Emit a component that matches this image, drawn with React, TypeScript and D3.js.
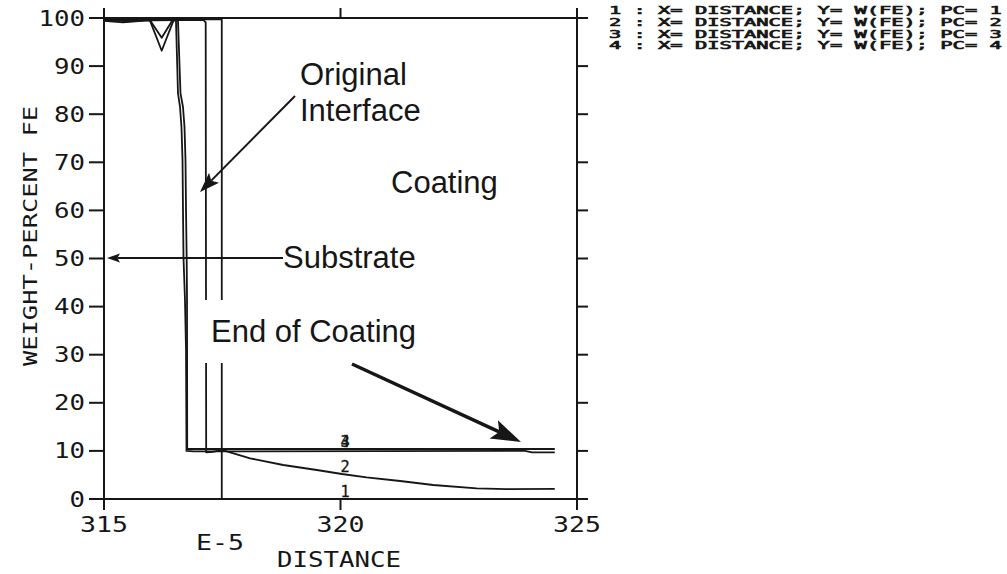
import React from "react";
import * as d3 from "d3";

// Axis ranges and ticks (distance in units of E-5)
const xDomain: [number, number] = [315, 325];
const yDomain: [number, number] = [0, 100];
const xTicks = [315, 320, 325];
const yTicks = [0, 10, 20, 30, 40, 50, 60, 70, 80, 90, 100];

// Fe weight-percent profiles, [distance, W(FE)], one per plot curve (PC)
const pc1: [number, number][] = [
  [315, 99.7], [317.49, 99.7], [317.49, 0], [324.53, 0],
];
const pc2: [number, number][] = [
  [315, 99.6], [316.0, 99.5], [317.1, 99.6], [317.15, 99.1], [317.16, 9.7],
  [317.3, 9.8], [317.49, 10.2], [318.09, 8.46], [318.79, 7.07], [319.5, 6.03],
  [320.03, 5.2], [320.55, 4.51], [321.26, 3.74], [321.96, 2.91], [322.88, 2.22],
  [323.51, 2.05], [324.53, 2.1],
];
const pc3: [number, number][] = [
  [315, 99.4], [315.4, 99.1], [315.8, 99.4], [315.97, 99.5], [316.22, 93.2],
  [316.47, 99.5], [316.522, 99.4], [316.564, 84.4], [316.607, 81.5],
  [316.638, 77.3], [316.66, 70.5], [316.67, 60.1], [316.681, 50.1],
  [316.712, 41.4], [316.734, 31.0], [316.744, 10.0], [316.9, 9.9],
  [323.9, 10.0], [324.05, 9.7], [324.53, 9.7],
];
const pc4: [number, number][] = [
  [315, 99.6], [315.5, 99.3], [315.97, 99.6], [316.22, 95.9], [316.45, 99.6],
  [316.564, 99.5], [316.617, 84.4], [316.67, 81.5], [316.702, 77.3],
  [316.723, 70.5], [316.734, 60.1], [316.748, 50.1], [316.755, 41.4],
  [316.759, 10.4], [324.53, 10.4],
];
const curves = [pc1, pc2, pc3, pc4];

// Curve number labels, placed on each curve at this distance
const curveLabelX = 320.1;
const curveLabels = [
  { text: "1", value: 0 },
  { text: "2", value: 5.15 },
  { text: "3", value: 10.4 },
  { text: "4", value: 10.4 },
];

const legendRows = [
  "1 :  X= DISTANCE; Y= W(FE); PC= 1",
  "2 :  X= DISTANCE; Y= W(FE); PC= 2",
  "3 :  X= DISTANCE; Y= W(FE); PC= 3",
  "4 :  X= DISTANCE; Y= W(FE); PC= 4",
];

const xTitle = "DISTANCE";
const xExponent = "E-5";
const yTitle = "WEIGHT-PERCENT FE";

const PLOT_FONT = "'DejaVu Sans Mono', monospace";
const NOTE_FONT = "'Liberation Sans', Arial, Helvetica, sans-serif";
const INK = "#161616";

function PlotText(props: {
  x: number; y: number; text: string; size: number; pitch: number;
  anchor?: "start" | "middle" | "end"; weight?: string; transform?: string;
  outline?: number;
}) {
  const { x, y, text, size, pitch, anchor = "start", weight = "normal", transform, outline } = props;
  return (
    <text
      x={x}
      y={y}
      fontFamily={PLOT_FONT}
      fontSize={size}
      fontWeight={weight}
      textAnchor={anchor}
      textLength={text.length * pitch}
      lengthAdjust="spacingAndGlyphs"
      transform={transform}
      fill={INK}
      stroke={outline ? INK : undefined}
      strokeWidth={outline}
    >
      {text}
    </text>
  );
}

function Arrow(props: {
  x1: number; y1: number; x2: number; y2: number;
  width: number; headLen: number; headHalf: number;
}) {
  const { x1, y1, x2, y2, width, headLen, headHalf } = props;
  const a = Math.atan2(y2 - y1, x2 - x1);
  const bx = x2 - headLen * Math.cos(a);
  const by = y2 - headLen * Math.sin(a);
  const nx = -Math.sin(a) * headHalf;
  const ny = Math.cos(a) * headHalf;
  const mx = x2 - headLen * 0.8 * Math.cos(a);
  const my = y2 - headLen * 0.8 * Math.sin(a);
  return (
    <g>
      <line x1={x1} y1={y1} x2={mx} y2={my} stroke={INK} strokeWidth={width} />
      <polygon
        points={`${x2},${y2} ${bx + nx},${by + ny} ${mx},${my} ${bx - nx},${by - ny}`}
        fill={INK}
      />
    </g>
  );
}

export default function App() {
  const width = 1007;
  const height = 574;
  const x = d3.scaleLinear().domain(xDomain).range([104, 577]);
  const y = d3.scaleLinear().domain(yDomain).range([499, 18]);
  const line = d3
    .line<[number, number]>()
    .x((d) => x(d[0]))
    .y((d) => y(d[1]));

  const left = x(xDomain[0]);
  const right = x(xDomain[1]);
  const top = y(yDomain[1]);
  const bottom = y(yDomain[0]);

  return (
    <svg
      width={width}
      height={height}
      style={{ position: "absolute", left: 0, top: 0, background: "#fff" }}
    >
      <rect x={0} y={0} width={width} height={height} fill="#fff" />

      {/* profiles */}
      <g fill="none" stroke={INK} strokeWidth={1.8} strokeLinejoin="round">
        {curves.map((c, i) => (
          <path key={i} d={line(c) ?? ""} />
        ))}
      </g>

      {/* frame */}
      <g stroke={INK} strokeWidth={2} fill="none">
        <line x1={left} x2={right} y1={top} y2={top} />
        <line x1={left} x2={right} y1={bottom} y2={bottom} />
        <line x1={left} x2={left} y1={top} y2={bottom} />
        <line x1={right} x2={right} y1={top} y2={bottom} />
        {yTicks.map((t) => (
          <g key={"yt" + t}>
            <line x1={left - 15} x2={left} y1={y(t)} y2={y(t)} />
            <line x1={right} x2={right + 11} y1={y(t)} y2={y(t)} />
          </g>
        ))}
        {xTicks.map((t) => (
          <g key={"xt" + t}>
            <line x1={x(t)} x2={x(t)} y1={top - 10} y2={top} />
            <line x1={x(t)} x2={x(t)} y1={bottom} y2={bottom + 11} />
          </g>
        ))}
      </g>

      {/* tick labels */}
      {yTicks.map((t) => (
        <PlotText
          key={"yl" + t}
          x={85}
          y={y(t) + 7.5}
          text={String(t)}
          size={21}
          pitch={15.5}
          anchor="end"
        />
      ))}
      {xTicks.map((t) => (
        <PlotText
          key={"xl" + t}
          x={x(t)}
          y={532}
          text={String(t)}
          size={22}
          pitch={16}
          anchor="middle"
        />
      ))}
      <PlotText x={220} y={550} text={xExponent} size={22} pitch={16} anchor="middle" />
      <PlotText x={339} y={567} text={xTitle} size={22} pitch={15.5} anchor="middle" />
      <PlotText
        x={0}
        y={0}
        text={yTitle}
        size={20}
        pitch={15.3}
        anchor="middle"
        transform="translate(37,236) rotate(-90)"
      />

      {/* curve numbers */}
      {curveLabels.map((l) => (
        <PlotText
          key={"cl" + l.text}
          x={x(curveLabelX)}
          y={y(l.value) - 2}
          text={l.text}
          size={15}
          pitch={9.2}
          anchor="middle"
          outline={0.3}
        />
      ))}

      {/* legend */}
      {legendRows.map((r, i) => (
        <PlotText
          key={"lg" + i}
          x={609}
          y={14 + i * 11.8}
          text={r}
          size={10}
          pitch={11.9}
          outline={0.6}
        />
      ))}

      {/* annotations */}
      <rect x={196} y={300} width={234} height={63} fill="#fff" />
      <g fontFamily={NOTE_FONT} fontSize={31} fill={INK}>
        <text x={300} y={85}>Original</text>
        <text x={300} y={121}>Interface</text>
        <text x={391} y={193}>Coating</text>
        <text x={283} y={268}>Substrate</text>
        <text x={211} y={342}>End of Coating</text>
      </g>
      <Arrow x1={295} y1={96} x2={200} y2={192} width={2} headLen={20} headHalf={7} />
      <Arrow x1={283} y1={258} x2={107} y2={258} width={2} headLen={13} headHalf={4.5} />
      <Arrow x1={352} y1={364} x2={521} y2={442} width={3.5} headLen={30} headHalf={10} />
    </svg>
  );
}
